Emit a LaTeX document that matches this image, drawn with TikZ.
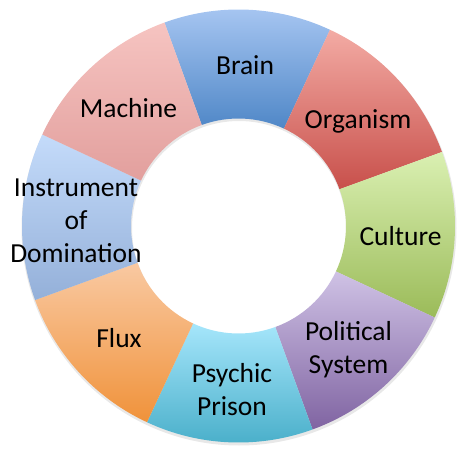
\documentclass[tikz,border=0pt]{standalone}
\usepackage{fontspec}
\setmainfont{Carlito}
\usepackage{tikz}

\definecolor{brainTop}{HTML}{AAC8F3}
\definecolor{brainBot}{HTML}{4F87C7}
\definecolor{organismTop}{HTML}{F3ABA4}
\definecolor{organismBot}{HTML}{C8504B}
\definecolor{cultureTop}{HTML}{DAF0B2}
\definecolor{cultureBot}{HTML}{9BBB59}
\definecolor{politicalTop}{HTML}{CFC2E5}
\definecolor{politicalBot}{HTML}{8064A2}
\definecolor{psychicTop}{HTML}{A6E6FB}
\definecolor{psychicBot}{HTML}{46ADC8}
\definecolor{fluxTop}{HTML}{F9C9A2}
\definecolor{fluxBot}{HTML}{F0923A}
\definecolor{instrumentTop}{HTML}{C4DBFA}
\definecolor{instrumentBot}{HTML}{94B0D9}
\definecolor{machineTop}{HTML}{F6C4C1}
\definecolor{machineBot}{HTML}{E29F9D}

\begin{document}
\begin{tikzpicture}[x=1pt,y=1pt,
            seg/.style={shade,shading angle=0},
            shadow ring/.style={fill=black!9,even odd rule},
            label node/.style={anchor=base,align=center,inner sep=0pt,
              font=\fontsize{27.5}{33}\selectfont}]

    \useasboundingbox (0,0) rectangle (464,451);
    \coordinate (c) at (238.5,225);
    \coordinate (cs) at (239,223);

    % soft shadow under the ring
    \path[shadow ring] (cs) circle[radius=217.5pt] (cs) circle[radius=107pt];

    \begin{scope}[shift={(c)}]
    % ring segments, clockwise from the top
    \path[seg,top color=brainTop,bottom color=brainBot]
      (110:216.5pt) arc[start angle=110,end angle=65,radius=216.5pt]
      -- (65:107.5pt) arc[start angle=65,end angle=110,radius=107.5pt] -- cycle;
    \path[seg,top color=organismTop,bottom color=organismBot]
      (65:216.5pt) arc[start angle=65,end angle=20,radius=216.5pt]
      -- (20:107.5pt) arc[start angle=20,end angle=65,radius=107.5pt] -- cycle;
    \path[seg,top color=cultureTop,bottom color=cultureBot]
      (20:216.5pt) arc[start angle=20,end angle=-25,radius=216.5pt]
      -- (-25:107.5pt) arc[start angle=-25,end angle=20,radius=107.5pt] -- cycle;
    \path[seg,top color=politicalTop,bottom color=politicalBot]
      (-25:216.5pt) arc[start angle=-25,end angle=-70,radius=216.5pt]
      -- (-70:107.5pt) arc[start angle=-70,end angle=-25,radius=107.5pt] -- cycle;
    \path[seg,top color=psychicTop,bottom color=psychicBot]
      (-70:216.5pt) arc[start angle=-70,end angle=-115,radius=216.5pt]
      -- (-115:107.5pt) arc[start angle=-115,end angle=-70,radius=107.5pt] -- cycle;
    \path[seg,top color=fluxTop,bottom color=fluxBot]
      (-115:216.5pt) arc[start angle=-115,end angle=-160,radius=216.5pt]
      -- (-160:107.5pt) arc[start angle=-160,end angle=-115,radius=107.5pt] -- cycle;
    \path[seg,top color=instrumentTop,bottom color=instrumentBot]
      (-160:216.5pt) arc[start angle=-160,end angle=-205,radius=216.5pt]
      -- (155:107.5pt) arc[start angle=155,end angle=200,radius=107.5pt] -- cycle;
    \path[seg,top color=machineTop,bottom color=machineBot]
      (155:216.5pt) arc[start angle=155,end angle=110,radius=216.5pt]
      -- (110:107.5pt) arc[start angle=110,end angle=155,radius=107.5pt] -- cycle;
    \end{scope}

    \node[label node] (brain) at (245,376) {Brain};
    \node[label node] (organism) at (358,323) {Organism};
    \node[label node] (culture) at (400.5,206) {Culture};
    \node[label node] (political) at (348.5,78) {Political\\System};
    \node[label node] (psychic) at (232,36) {Psychic\\Prison};
    \node[label node] (flux) at (119,104) {Flux};
    \node[label node] (instrument) at (76,189) {Instrument\\of\\Domination};
    \node[label node] (machine) at (128.5,334) {Machine};
\end{tikzpicture}
\end{document}
